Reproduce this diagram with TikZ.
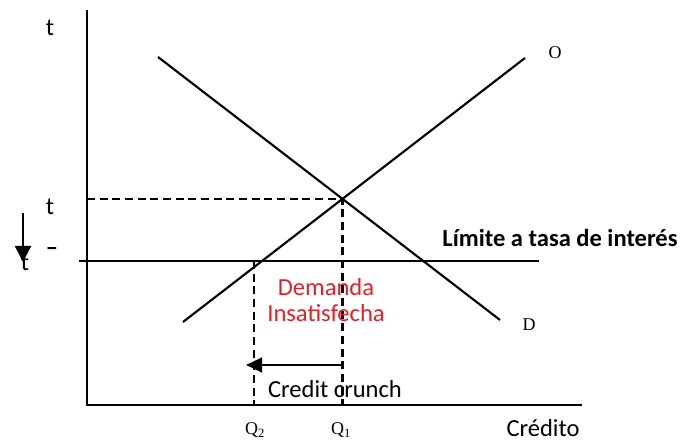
\documentclass[tikz,border=0pt]{standalone}
\usepackage{fontspec}
\setmainfont{Liberation Serif}
\setsansfont{Carlito}
\usepackage{tikz}
\usetikzlibrary{positioning,arrows.meta,calc}
\definecolor{GapRed}{RGB}{228,32,40}

\begin{document}
\begin{tikzpicture}[
    x=0.75pt, y=-0.75pt,
    axis/.style={line width=2.2pt},
    curve/.style={line width=1.6pt},
    guide/.style={line width=1.9pt, dash pattern=on 6pt off 3.5pt},
    txt/.style={font=\sffamily\fontsize{18.4}{19.5}\selectfont, inner sep=0pt, align=center},
    serif/.style={font=\rmfamily\fontsize{13.5}{15}\selectfont, inner sep=0pt}
]
\useasboundingbox (0,0) rectangle (683,441);
% axes
\coordinate (ytop) at (87,10);
\coordinate (origin) at (87,405);
\coordinate (xend) at (582,405);
\draw[axis] (ytop) -- (origin) -- (xend);
% supply O and demand D
\coordinate (s0) at (183,322);
\coordinate (s1) at (525,58);
\coordinate (d0) at (158,57);
\coordinate (d1) at (500,320);
\draw[curve] (s0) -- (s1);
\draw[curve] (d0) -- (d1);
\node[serif] (olbl) at (555,53) {O};
\node[serif] (dlbl) at (529,325) {D};
% equilibrium
\coordinate (eq) at (intersection of s0--s1 and d0--d1);
\coordinate (q1) at (eq |- origin);
\draw[guide] (origin |- eq) -- (eq) -- (q1);
% interest rate limit
\coordinate (lim0) at (79,261);
\coordinate (lim1) at (539,261);
\draw[axis] (lim0) -- (lim1);
\node[txt, font=\sffamily\bfseries\fontsize{18.4}{19.5}\selectfont] (limlbl) at (560,238) {Límite a tasa de interés};
\coordinate (q2top) at (254,261);
\coordinate (q2) at (254,405);
\draw[guide] (q2top) -- (q2);
\node[txt, text=GapRed] (gap) at (326,300) {Demanda\\Insatisfecha};
% credit crunch
\coordinate (cc0) at (344,365);
\coordinate (cc1) at (246,365);
\draw[curve, -{Triangle[length=12pt,width=11pt]}] (cc0) -- (cc1);
\node[txt] (cclbl) at (335,389) {Credit crunch};
% axis labels
\node[serif] (q2lbl) at (255,430) {Q\textsubscript{2}};
\node[serif] (q1lbl) at (341,430) {Q\textsubscript{1}};
\node[txt] (xlbl) at (543,428) {Crédito};
\node[txt] (ylbl) at (50,28) {t};
\node[txt] (t1lbl) at (50,207) {t};
\node[txt, font=\sffamily\bfseries\fontsize{18.4}{19.5}\selectfont] (dashlbl) at (52,251) {–};
\coordinate (dn0) at (23,213);
\coordinate (dn1) at (23,262);
\draw[curve, -{Triangle[length=12pt,width=12pt]}] (dn0) -- (dn1);
\node[txt] (t2lbl) at (25,263) {t};
\end{tikzpicture}
\end{document}
